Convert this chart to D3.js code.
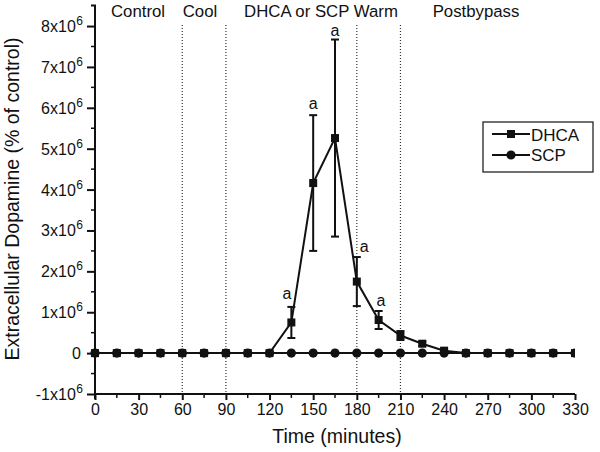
<!DOCTYPE html>
<html><head><meta charset="utf-8">
<script src="https://cdn.jsdelivr.net/npm/d3@7"></script>
<style>body{margin:0;background:#fff;} svg{display:block;font-family:"Liberation Sans",Arial,sans-serif;}</style>
</head><body><svg id="c" width="600" height="452"></svg>
<script>
const times = [0,15,30,45,60,75,90,105,120,135,150,165,180,195,210,225,240,255,270,285,300,315,330];
const dhcaValues = [0,0,0,0,0,0,0,0,0,0.75e6,4.16e6,5.26e6,1.75e6,0.81e6,0.43e6,0.23e6,0.06e6,0,0,0,0,0,0];
const dhcaErrors = [0,0,0,0,0,0,0,0,0,0.38e6,1.66e6,2.41e6,0.6e6,0.22e6,0.11e6,0.05e6,0.03e6,0,0,0,0,0,0];
const scpValues = times.map(()=>0);
const xTicks = [0,30,60,90,120,150,180,210,240,270,300,330];
const yTicks = [-1e6,0,1e6,2e6,3e6,4e6,5e6,6e6,7e6,8e6];
const phaseLines = [60,90,180,210];
const phaseLabels = [{t:"Control",x:138},{t:"Cool",x:200},{t:"DHCA or SCP Warm",x:321},{t:"Postbypass",x:476}];
const sigMarks = [[132,1.32e6],[150,5.97e6],[165,7.76e6],[185,2.48e6],[196.6,1.16e6]];

const svg = d3.select("#c");
const x = d3.scaleLinear().domain([0,330]).range([95,575]);
const y = d3.scaleLinear().domain([-1e6,8.5e6]).range([394,5.6]);
const ink = "#111";

svg.append("clipPath").attr("id","clip").append("rect").attr("x",80).attr("y",0).attr("width",495).attr("height",400);

// phase lines
svg.selectAll(".ph").data(phaseLines).enter().append("line")
  .attr("x1",d=>x(d)).attr("x2",d=>x(d)).attr("y1",25).attr("y2",394)
  .attr("stroke","#333").attr("stroke-width",1.2).attr("stroke-dasharray","1,2");
svg.selectAll(".pl").data(phaseLabels).enter().append("text")
  .attr("x",d=>d.x).attr("y",17).attr("text-anchor","middle").attr("font-size",16.8).attr("fill",ink).text(d=>d.t);

// y axis
const yAxis = d3.axisLeft(y).tickValues(yTicks).tickSize(8).tickFormat("");
const yg = svg.append("g").attr("transform",`translate(${x(0)},0)`).call(yAxis);
yg.select(".domain").attr("d",`M-4,${y(8.5e6)}H0V${y(-1e6)+5}`).attr("stroke",ink).attr("stroke-width",2).attr("fill","none");
yg.selectAll(".tick line").attr("stroke",ink).attr("stroke-width",2);
svg.append("g").selectAll("line").data(d3.range(-0.5e6,8.5e6,1e6)).enter().append("line")
  .attr("x1",x(0)-4).attr("x2",x(0)).attr("y1",d=>y(d)).attr("y2",d=>y(d)).attr("stroke",ink).attr("stroke-width",1.5);
yTicks.forEach(v=>{
  const t = svg.append("text").attr("x",x(0)-12).attr("y",y(v)+6).attr("text-anchor","end").attr("font-size",16).attr("fill",ink);
  if(v===0){ t.attr("x",x(0)-14).text("0"); return; }
  const m = v/1e6;
  t.append("tspan").text(m+"x10");
  t.append("tspan").attr("font-size",12).attr("dy",-7).attr("dx",0.5).text("6");
});

// x axis
const xAxis = d3.axisBottom(x).tickValues(xTicks).tickSize(6).tickPadding(4);
const xg = svg.append("g").attr("transform",`translate(0,${y(-1e6)})`).call(xAxis);
xg.select(".domain").attr("d",`M${x(0)},0H${x(330)}`).attr("stroke",ink).attr("stroke-width",2);
xg.selectAll(".tick line").attr("stroke",ink).attr("stroke-width",2);
xg.selectAll(".tick text").attr("font-size",16).attr("fill",ink).attr("font-family","'Liberation Sans',Arial,sans-serif");
svg.append("g").selectAll("line").data(d3.range(15,330,30)).enter().append("line")
  .attr("x1",d=>x(d)).attr("x2",d=>x(d)).attr("y1",y(-1e6)).attr("y2",y(-1e6)+4).attr("stroke",ink).attr("stroke-width",1.5);

svg.append("text").attr("x",x(165)+2).attr("y",443).attr("text-anchor","middle").attr("font-size",19.5).attr("fill",ink).text("Time (minutes)");
svg.append("text").attr("transform",`translate(19,199) rotate(-90)`).attr("text-anchor","middle").attr("font-size",19.5).attr("fill",ink).text("Extracellular Dopamine (% of control)");

const plot = svg.append("g").attr("clip-path","url(#clip)");
const line = d3.line().x(d=>x(d[0])).y(d=>y(d[1]));
const scp = times.map((t,i)=>[t,scpValues[i]]);
const dhca = times.map((t,i)=>[t,dhcaValues[i],dhcaErrors[i]]);

plot.append("path").datum(scp).attr("d",line).attr("fill","none").attr("stroke",ink).attr("stroke-width",2);
plot.append("path").datum(dhca).attr("d",line).attr("fill","none").attr("stroke",ink).attr("stroke-width",2);

const eb = plot.selectAll(".eb").data(dhca.filter(d=>d[2]>0)).enter().append("g");
eb.append("line").attr("x1",d=>x(d[0])).attr("x2",d=>x(d[0])).attr("y1",d=>y(d[1]+d[2])).attr("y2",d=>y(d[1]-d[2])).attr("stroke",ink).attr("stroke-width",2);
eb.append("line").attr("x1",d=>x(d[0])-4).attr("x2",d=>x(d[0])+4).attr("y1",d=>y(d[1]+d[2])).attr("y2",d=>y(d[1]+d[2])).attr("stroke",ink).attr("stroke-width",2);
eb.append("line").attr("x1",d=>x(d[0])-4).attr("x2",d=>x(d[0])+4).attr("y1",d=>y(d[1]-d[2])).attr("y2",d=>y(d[1]-d[2])).attr("stroke",ink).attr("stroke-width",2);

plot.selectAll(".sq").data(dhca).enter().append("rect")
  .attr("x",d=>x(d[0])-4).attr("y",d=>y(d[1])-4).attr("width",8).attr("height",8).attr("fill",ink);
plot.selectAll(".ci").data(scp).enter().append("circle")
  .attr("cx",d=>x(d[0])).attr("cy",d=>y(d[1])).attr("r",4.6).attr("fill",ink);

svg.selectAll(".sig").data(sigMarks).enter().append("text")
  .attr("x",d=>x(d[0])).attr("y",d=>y(d[1])).attr("text-anchor","middle").attr("font-size",16).attr("fill",ink).text("a");

// legend
const lg = svg.append("g");
lg.append("rect").attr("x",483).attr("y",122).attr("width",110).attr("height",50).attr("fill","#fff").attr("stroke",ink).attr("stroke-width",1.2);
const items = [{n:"DHCA",s:"sq",yy:134,ty:140.5},{n:"SCP",s:"ci",yy:155,ty:160.5}];
items.forEach(it=>{
  lg.append("line").attr("x1",492).attr("x2",530).attr("y1",it.yy).attr("y2",it.yy).attr("stroke",ink).attr("stroke-width",2);
  if(it.s==="sq") lg.append("rect").attr("x",507).attr("y",it.yy-4).attr("width",8).attr("height",8).attr("fill",ink);
  else lg.append("circle").attr("cx",511).attr("cy",it.yy).attr("r",4.6).attr("fill",ink);
  lg.append("text").attr("x",531).attr("y",it.ty).attr("font-size",17).attr("fill",ink).text(it.n);
});
</script></body></html>
